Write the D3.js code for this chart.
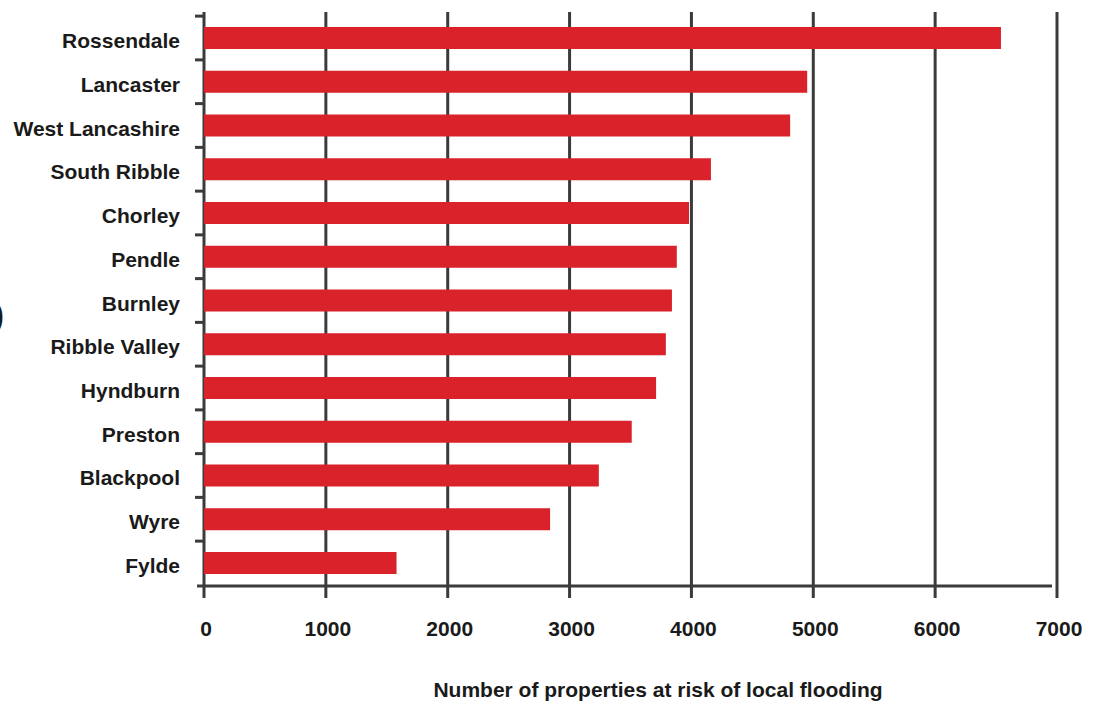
<!DOCTYPE html>
<html>
<head>
<meta charset="utf-8">
<script src="https://cdn.jsdelivr.net/npm/d3@7"></script>
<style>
  body { margin: 0; background: #fff; }
  text { font-family: "Liberation Sans", Arial, sans-serif; font-weight: bold; fill: #1a1a1a; }
</style>
</head>
<body>
<script>
var width = 1096;
var height = 702;

// districts, top to bottom
var districts = ['Rossendale', 'Lancaster', 'West Lancashire', 'South Ribble', 'Chorley', 'Pendle',
    'Burnley', 'Ribble Valley', 'Hyndburn', 'Preston', 'Blackpool', 'Wyre', 'Fylde'];
// number of properties at risk of local flooding
var properties = [6540, 4950, 4810, 4160, 3980, 3880, 3840, 3790, 3710, 3510, 3240, 2840, 1580];
var xTicks = [0, 1000, 2000, 3000, 4000, 5000, 6000, 7000];
var xTitle = 'Number of properties at risk of local flooding';

var data = districts.map((d, i) => ({name: d, val: properties[i]}));

var svg = d3.select('body').append('svg')
    .attr('width', width)
    .attr('height', height)

var x = d3.scaleLinear().domain([0, 7000]).range([204, 1057])
var y = d3.scaleBand().domain(districts).range([27, 574]).paddingInner(0.497).paddingOuter(0)

var gridTop = 12, axisY = 586, gridBottom = 598
var axisColor = '#3b3b3b'
var fontSize = '21px'

// vertical gridlines (also act as x ticks)
svg.append('g')
    .selectAll('line')
    .data(xTicks)
    .enter()
    .append('line')
        .attr('x1', d => x(d))
        .attr('x2', d => x(d))
        .attr('y1', gridTop)
        .attr('y2', gridBottom)
        .attr('stroke', axisColor)
        .attr('stroke-width', 3)

// x axis line
svg.append('line')
    .attr('x1', x(0) - 7)
    .attr('x2', x(7000) - 5)
    .attr('y1', axisY)
    .attr('y2', axisY)
    .attr('stroke', axisColor)
    .attr('stroke-width', 3)

// little y ticks sitting between the bars
var step = y.step()
var gap = step - y.bandwidth()
svg.append('g')
    .selectAll('line')
    .data(districts)
    .enter()
    .append('line')
        .attr('x1', x(0) - 9)
        .attr('x2', x(0))
        .attr('y1', d => y(d) - gap / 2)
        .attr('y2', d => y(d) - gap / 2)
        .attr('stroke', axisColor)
        .attr('stroke-width', 3)

// bars
svg.append('g')
    .selectAll('rect')
    .data(data)
    .enter()
    .append('rect')
        .attr('x', x(0))
        .attr('y', d => y(d.name))
        .attr('width', d => x(d.val) - x(0))
        .attr('height', y.bandwidth())
        .attr('fill', '#d92229')

// category labels
svg.append('g')
    .selectAll('text')
    .data(data)
    .enter()
    .append('text')
        .attr('x', 180)
        .attr('y', d => y(d.name) + y.bandwidth() / 2 + 10)
        .attr('text-anchor', 'end')
        .attr('font-size', fontSize)
        .text(d => d.name)

// x tick labels
svg.append('g')
    .selectAll('text')
    .data(xTicks)
    .enter()
    .append('text')
        .attr('x', d => x(d) + 2)
        .attr('y', 636)
        .attr('text-anchor', 'middle')
        .attr('font-size', fontSize)
        .text(d => d)

// axis title
svg.append('text')
    .attr('x', 658)
    .attr('y', 697)
    .attr('text-anchor', 'middle')
    .attr('font-size', fontSize)
    .text(xTitle)

// leftover of a cut off y title at the left edge
svg.append('text')
    .attr('x', 4)
    .attr('y', 326)
    .attr('text-anchor', 'end')
    .attr('font-size', '34px')
    .attr('font-weight', 'normal')
    .text(')')
</script>
</body>
</html>
